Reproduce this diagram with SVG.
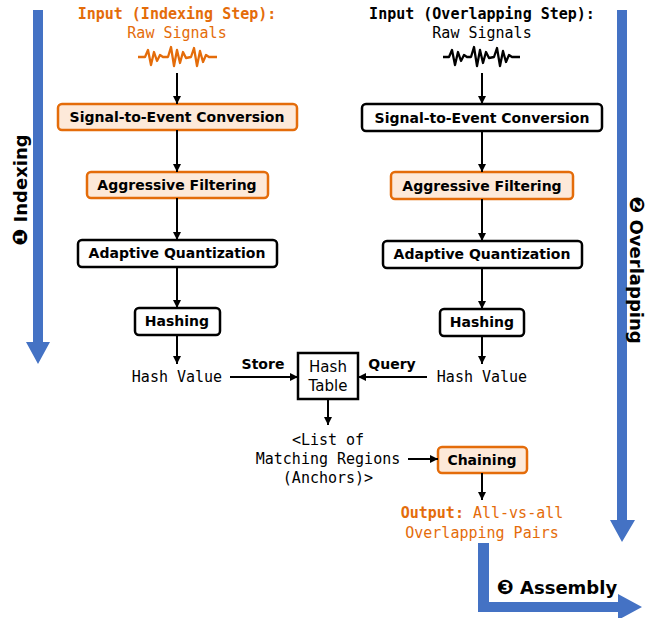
<svg xmlns="http://www.w3.org/2000/svg" width="649" height="618" viewBox="0 0 649 618">
<defs>
<marker id="ah" viewBox="0 0 10 10" refX="10" refY="5" markerWidth="4" markerHeight="4" orient="auto" markerUnits="strokeWidth">
<path d="M0,0 L10,5 L0,10 z" fill="#000"/>
</marker>
<style>
.mono{font-family:"DejaVu Sans Mono","Liberation Mono",monospace;font-size:15px;}
.bold{font-weight:bold;}
.org{fill:#e46c0a;}
.lbl{font-family:"DejaVu Sans","Verdana",sans-serif;font-size:14px;font-weight:bold;fill:#000;}
.big{font-family:"DejaVu Sans","Verdana",sans-serif;font-size:18px;font-weight:bold;fill:#000;}
.dig{font-size:20px;}
.bo{fill:#fde9d9;stroke:#e46c0a;stroke-width:2.5;}
.bk{fill:#fff;stroke:#000;stroke-width:2.5;}
.ln{stroke:#000;stroke-width:2;fill:none;marker-end:url(#ah);}
.blue{fill:#4472c4;}
</style>
</defs>
<rect width="649" height="618" fill="#fff"/>

<g id="phase-arrows">
<polygon class="blue" points="33,10 43,10 43,342 50,342 38,364 26,342 33,342"/>
<polygon class="blue" points="617,10 627,10 627,520 635,520 622,542 610,520 617,520"/>
<polygon class="blue" points="478,543 489,543 489,602 618,602 618,594 642,607 618,620 618,612 478,612"/>
<text class="big" transform="translate(27,190) rotate(-90)" text-anchor="middle"><tspan class="dig">❶</tspan> Indexing</text>
<text class="big" transform="translate(630,270) rotate(90)" text-anchor="middle"><tspan class="dig">❷</tspan> Overlapping</text>
<text class="big" x="557" y="594" text-anchor="middle"><tspan class="dig">❸</tspan> Assembly</text>
</g>

<g id="input-left">
<text class="mono bold org" x="177" y="19" text-anchor="middle">Input (Indexing Step):</text>
<text class="mono org" x="177" y="38" text-anchor="middle">Raw Signals</text>
<polyline fill="none" stroke="#e46c0a" stroke-width="2.3" stroke-linejoin="round" points="138,57 145,57 148,50 151,65 154,52 157,61 160,55 163,57 168,57 171,47 174,66 177,50 180,63 183,52 186,58 191,57 194,48 197,66 200,51 203,62 206,55 209,57 217,57"/>
</g>
<g id="input-right">
<text class="mono bold" x="482" y="19" text-anchor="middle">Input (Overlapping Step):</text>
<text class="mono" x="482" y="38" text-anchor="middle">Raw Signals</text>
<polyline fill="none" stroke="#000" stroke-width="2.3" stroke-linejoin="round" points="443,57 449,57 452,50 455,65 458,52 461,61 464,55 467,57 471,57 474,47 477,66 480,50 483,63 486,52 489,58 494,57 497,48 500,66 503,51 506,62 509,55 512,57 520,57"/>
</g>

<g id="l-s2e"><rect class="bo" x="58" y="104" width="239" height="26" rx="4"/><text class="lbl" x="177" y="122" text-anchor="middle">Signal-to-Event Conversion</text></g>
<g id="l-filter"><rect class="bo" x="87" y="172" width="181" height="26" rx="4"/><text class="lbl" x="177" y="190" text-anchor="middle">Aggressive Filtering</text></g>
<g id="l-quant"><rect class="bk" x="78" y="240" width="199" height="27" rx="4"/><text class="lbl" x="177" y="258" text-anchor="middle">Adaptive Quantization</text></g>
<g id="l-hash"><rect class="bk" x="135" y="308" width="85" height="27" rx="4"/><text class="lbl" x="177" y="326" text-anchor="middle">Hashing</text></g>
<g id="l-hv"><text class="mono" x="177" y="382" text-anchor="middle">Hash Value</text></g>

<g id="r-s2e"><rect class="bk" x="362" y="104" width="240" height="27" rx="4"/><text class="lbl" x="482" y="123" text-anchor="middle">Signal-to-Event Conversion</text></g>
<g id="r-filter"><rect class="bo" x="391" y="172" width="182" height="27" rx="4"/><text class="lbl" x="482" y="191" text-anchor="middle">Aggressive Filtering</text></g>
<g id="r-quant"><rect class="bk" x="383" y="241" width="199" height="27" rx="4"/><text class="lbl" x="482" y="259" text-anchor="middle">Adaptive Quantization</text></g>
<g id="r-hash"><rect class="bk" x="440" y="309" width="84" height="27" rx="4"/><text class="lbl" x="482" y="327" text-anchor="middle">Hashing</text></g>
<g id="r-hv"><text class="mono" x="482" y="382" text-anchor="middle">Hash Value</text></g>

<g id="hashtable"><rect x="298" y="353" width="60" height="46" fill="#fff" stroke="#000" stroke-width="2.5"/>
<text x="328" y="372" text-anchor="middle" font-family="DejaVu Sans, sans-serif" font-size="15">Hash</text>
<text x="328" y="391" text-anchor="middle" font-family="DejaVu Sans, sans-serif" font-size="15">Table</text></g>

<g id="anchors"><text class="mono" text-anchor="middle"><tspan x="328" y="445">&lt;List of</tspan><tspan x="328" y="464">Matching Regions</tspan><tspan x="328" y="483">(Anchors)&gt;</tspan></text></g>

<g id="chaining"><rect class="bo" x="438" y="447" width="89" height="26" rx="4"/><text class="lbl" x="482" y="465" text-anchor="middle">Chaining</text></g>

<g id="output"><text class="mono org" text-anchor="middle"><tspan x="482" y="518"><tspan class="bold">Output:</tspan> All-vs-all</tspan><tspan x="482" y="538">Overlapping Pairs</tspan></text></g>

<g id="connectors">
<line class="ln" x1="177" y1="73" x2="177" y2="104"/>
<line class="ln" x1="177" y1="130" x2="177" y2="172"/>
<line class="ln" x1="177" y1="198" x2="177" y2="240"/>
<line class="ln" x1="177" y1="267" x2="177" y2="308"/>
<line class="ln" x1="177" y1="335" x2="177" y2="364"/>
<line class="ln" x1="482" y1="73" x2="482" y2="104"/>
<line class="ln" x1="482" y1="131" x2="482" y2="172"/>
<line class="ln" x1="482" y1="199" x2="482" y2="241"/>
<line class="ln" x1="482" y1="268" x2="482" y2="309"/>
<line class="ln" x1="482" y1="336" x2="482" y2="364"/>
<line class="ln" x1="230" y1="377" x2="298" y2="377"/>
<line class="ln" x1="427" y1="377" x2="358" y2="377"/>
<line class="ln" x1="328" y1="399" x2="328" y2="425"/>
<line class="ln" x1="408" y1="459" x2="438" y2="459"/>
<line class="ln" x1="482" y1="473" x2="482" y2="500"/>
<text class="lbl" x="263" y="369" text-anchor="middle">Store</text>
<text class="lbl" x="392" y="369" text-anchor="middle">Query</text>
</g>
</svg>
